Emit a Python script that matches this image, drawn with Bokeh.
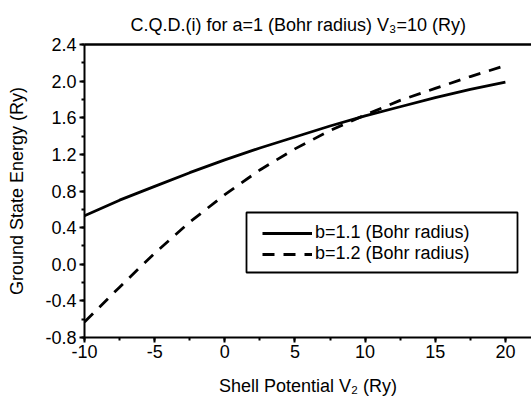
from bokeh.plotting import figure
from bokeh.models import (Range1d, Legend, LegendItem, PrintfTickFormatter,
                          SingleIntervalTicker, FixedTicker, LinearAxis, BoxAnnotation)
from bokeh.embed import file_html
from bokeh.resources import INLINE

v2 = [-10, -7.5, -5, -2.5, 0, 2.5, 5, 7.5, 10, 12.5, 15, 17.5, 20]
e_b11 = [0.53, 0.70, 0.85, 1.00, 1.14, 1.27, 1.39, 1.51, 1.62, 1.72, 1.82, 1.91, 1.99]
e_b12 = [-0.63, -0.25, 0.12, 0.46, 0.76, 1.03, 1.26, 1.46, 1.63, 1.79, 1.92, 2.05, 2.17]
labels = ["b=1.1 (Bohr radius)", "b=1.2 (Bohr radius)"]

FONT = "Liberation Sans"
FS = "18px"

p = figure(width=531, height=400, output_backend="svg", toolbar_location=None,
           x_range=Range1d(-10, 21.86), y_range=Range1d(-0.80001, 2.40001),
           min_border_left=84, min_border_right=0, min_border_top=44, min_border_bottom=63)
p.title.text = "C.Q.D.(i) for a=1 (Bohr radius) V\u2083=10 (Ry)"
p.title.align = "left"
p.title.vertical_align = "middle"
p.title.text_font = FONT
p.title.text_font_size = FS
p.title.text_font_style = "normal"
p.title.text_color = "black"
p.title.offset = 46
p.title.standoff = 18

p.grid.visible = False
p.outline_line_color = None
p.background_fill_color = "white"
p.border_fill_color = "white"

top = LinearAxis(ticker=FixedTicker(ticks=[], minor_ticks=[]))
top.axis_line_width = 2.5
top.major_tick_out = 0
top.major_tick_in = 0
top.minor_tick_out = 0
top.minor_tick_in = 0
top.major_label_standoff = 0
p.add_layout(top, "above")

xax = p.below[0]
yax = p.left[0]
xax.axis_label = "Shell Potential V\u2082 (Ry)"
yax.axis_label = "Ground State Energy (Ry)"
for ax in (xax, yax):
    ax.axis_line_width = 2
    ax.major_tick_line_width = 2
    ax.minor_tick_line_width = 2
    ax.major_tick_out = 5
    ax.major_tick_in = 0
    ax.minor_tick_out = 3
    ax.minor_tick_in = 0
    ax.major_label_text_font = FONT
    ax.major_label_text_font_size = FS
    ax.axis_label_text_font = FONT
    ax.axis_label_text_font_size = FS
    ax.axis_label_text_font_style = "normal"
    ax.major_label_text_color = "black"
    ax.axis_label_text_color = "black"

xax.ticker = SingleIntervalTicker(interval=5, num_minor_ticks=2)
yax.ticker = SingleIntervalTicker(interval=0.4, num_minor_ticks=2)
xax.formatter = PrintfTickFormatter(format="%d")
yax.formatter = PrintfTickFormatter(format="%.1f")
xax.axis_label_standoff = 15
yax.axis_label_standoff = 15
xax.major_label_standoff = 2
yax.major_label_standoff = 3

r1 = p.line(v2, e_b11, line_color="black", line_width=2.8)
r2 = p.line(v2, e_b12, line_color="black", line_width=2.8, line_dash="12 9")

box = BoxAnnotation(left=162, right=433, bottom=65, top=125,
                    left_units="screen", right_units="screen",
                    bottom_units="screen", top_units="screen",
                    fill_color="white", fill_alpha=1,
                    line_color="black", line_alpha=1, line_width=1.8)
p.add_layout(box)

legend = Legend(items=[LegendItem(label=labels[0], renderers=[r1]),
                       LegendItem(label=labels[1], renderers=[r2])],
                location=(178, 73))
legend.border_line_color = None
legend.background_fill_alpha = 0
legend.label_text_font = FONT
legend.label_text_font_size = FS
legend.label_text_color = "black"
legend.glyph_width = 50
legend.glyph_height = 20
legend.label_height = 20
legend.label_standoff = 3
legend.spacing = 0
legend.padding = 10
legend.margin = 0
p.add_layout(legend, "center")

open("out.html", "w").write(file_html(p, INLINE))
